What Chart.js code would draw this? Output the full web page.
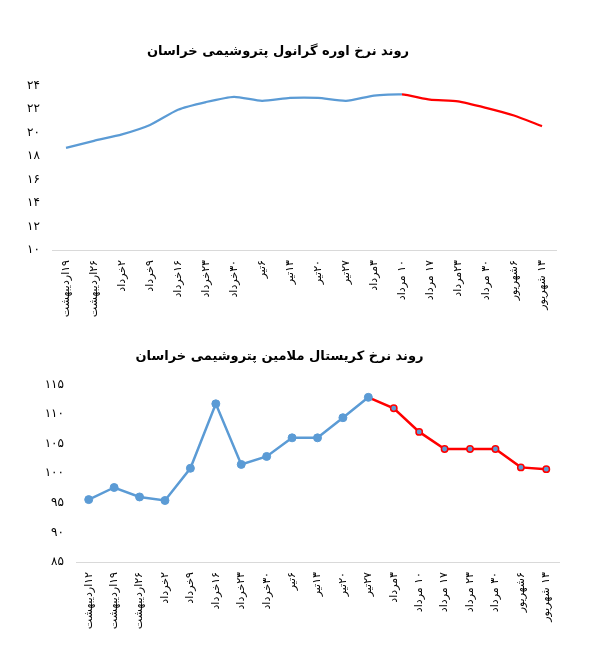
<!DOCTYPE html>
<html>
<head>
<meta charset="utf-8">
<script src="https://cdn.jsdelivr.net/npm/chart.js@4.4.1/dist/chart.umd.min.js"></script>
<style>
  body { margin: 0; background: #fff; }
  .box { position: absolute; left: 0; width: 616px; }
  #box1 { top: 0; height: 330px; }
  #box2 { top: 330px; height: 336px; }
</style>
</head>
<body>
<div class="box" id="box1"><canvas id="ureaChart"></canvas></div>
<div class="box" id="box2"><canvas id="melamineChart"></canvas></div>
<script>
// داده های نمودار اول: اوره گرانول
const ureaDates = ['۱۹اردیبهشت', '۲۶اردیبهشت', '۲خرداد', '۹خرداد', '۱۶خرداد', '۲۳خرداد', '۳۰خرداد',
  '۶تیر', '۱۳تیر', '۲۰تیر', '۲۷تیر', '۳مرداد', '۱۰ مرداد', '۱۷ مرداد', '۲۳مرداد', '۳۰ مرداد',
  '۶شهریور', '۱۳ شهریور'];
const ureaPrices = [18.7, 19.3, 19.85, 20.65, 21.95, 22.6, 23.05, 22.7, 22.95, 22.95, 22.7, 23.15,
  23.25, 22.8, 22.65, 22.1, 21.45, 20.55];
const ureaYTicks = [10, 12, 14, 16, 18, 20, 22, 24];
const ureaRedFrom = 12; // از این نقطه به بعد قرمز

// داده های نمودار دوم: کریستال ملامین
const melamineDates = ['۱۲اردیبهشت', '۱۹اردیبهشت', '۲۶اردیبهشت', '۲خرداد', '۹خرداد', '۱۶خرداد',
  '۲۳خرداد', '۳۰خرداد', '۶تیر', '۱۳تیر', '۲۰تیر', '۲۷تیر', '۳مرداد', '۱۰ مرداد', '۱۷ مرداد',
  '۲۳ مرداد', '۳۰ مرداد', '۶شهریور', '۱۳ شهریور'];
const melaminePrices = [95.55, 97.6, 96.0, 95.4, 100.85, 111.75, 101.5, 102.85, 106.0, 106.0, 109.4,
  112.85, 111.0, 107.0, 104.1, 104.1, 104.1, 101.0, 100.7];
const melamineYTicks = [85, 90, 95, 100, 105, 110, 115];
const melamineRedFrom = 12;

const BLUE = '#5B9BD5';
const RED = '#FF0000';
const FONT = 'DejaVu Sans';

// تبدیل ارقام به فارسی
const toFa = v => String(v).replace(/\d/g, d => '۰۱۲۳۴۵۶۷۸۹'[d]);

// متن ها راست به چپ نوشته شوند
const rtlText = {
  id: 'rtlText',
  beforeDraw: chart => { chart.ctx.direction = 'rtl'; }
};

const makeOptions = (title, yTicks, sizes) => ({
  responsive: true,
  maintainAspectRatio: false,
  animation: false,
  layout: { padding: { left: 0, right: sizes.right, top: 0, bottom: 0 } },
  plugins: {
    legend: { display: false },
    tooltip: { enabled: false },
    title: {
      display: true,
      text: title,
      color: '#000',
      font: { family: FONT, size: 13, weight: 'bold' },
      padding: { top: sizes.titleTop, bottom: sizes.titleBottom }
    }
  },
  scales: {
    x: {
      offset: true,
      grid: { display: false },
      border: { display: true, color: '#d9d9d9', width: 1 },
      ticks: {
        color: '#000',
        font: { family: FONT, size: 11 },
        minRotation: 90,
        maxRotation: 90,
        autoSkip: false,
        padding: 2
      },
      afterFit: s => { s.height = sizes.xHeight; }
    },
    y: {
      min: yTicks[0],
      max: yTicks[yTicks.length - 1],
      grid: { display: false, drawTicks: false },
      border: { display: false },
      ticks: {
        color: '#000',
        font: { family: FONT, size: 12 },
        padding: 12,
        callback: v => toFa(v)
      },
      afterBuildTicks: s => { s.ticks = yTicks.map(v => ({ value: v })); },
      afterFit: s => { s.width = sizes.yWidth; }
    }
  }
});

const ureaCtx = document.getElementById('ureaChart');
new Chart(ureaCtx, {
  type: 'line',
  data: {
    labels: ureaDates,
    datasets: [{
      data: ureaPrices,
      borderColor: BLUE,
      borderWidth: 2.25,
      tension: 0.2,
      pointRadius: 0,
      segment: {
        borderColor: c => c.p0DataIndex >= ureaRedFrom ? RED : BLUE
      }
    }]
  },
  options: makeOptions('روند نرخ اوره گرانول پتروشیمی خراسان', ureaYTicks,
    { right: 60, titleTop: 44, titleBottom: 26, xHeight: 80, yWidth: 52 }),
  plugins: [rtlText]
});

const melamineCtx = document.getElementById('melamineChart');
new Chart(melamineCtx, {
  type: 'line',
  data: {
    labels: melamineDates,
    datasets: [{
      data: melaminePrices,
      borderColor: BLUE,
      borderWidth: 2.5,
      tension: 0,
      pointRadius: melaminePrices.map((v, i) => i >= melamineRedFrom ? 3.2 : 4),
      pointBackgroundColor: BLUE,
      pointBorderColor: melaminePrices.map((v, i) => i >= melamineRedFrom ? RED : BLUE),
      pointBorderWidth: melaminePrices.map((v, i) => i >= melamineRedFrom ? 1.5 : 1),
      segment: {
        borderColor: c => c.p1DataIndex >= melamineRedFrom ? RED : BLUE
      }
    }]
  },
  options: makeOptions('روند نرخ کریستال ملامین پتروشیمی خراسان', melamineYTicks,
    { right: 57, titleTop: 19, titleBottom: 20, xHeight: 104, yWidth: 76 }),
  plugins: [rtlText]
});
</script>
</body>
</html>
